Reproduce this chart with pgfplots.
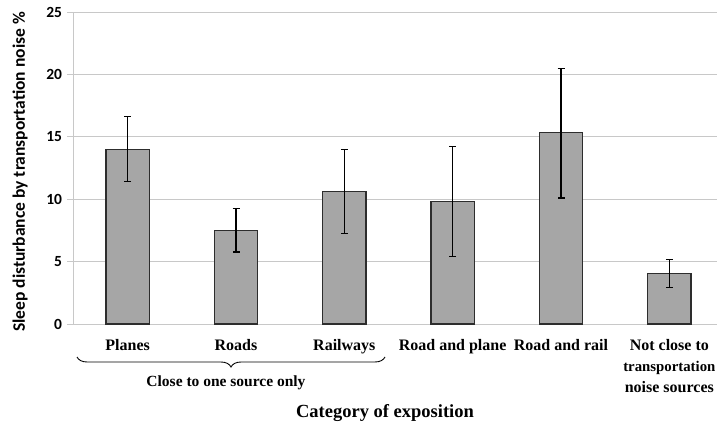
\documentclass[border=0pt]{standalone}
\usepackage{fontspec}
\setmainfont{Liberation Serif}
\newfontfamily\carlito{Carlito}
\usepackage{pgfplots}
\usepackage{pgfplotstable}
\pgfplotsset{compat=1.18}
\usetikzlibrary{decorations.pathreplacing}
\definecolor{barfill}{RGB}{166,166,166}
\definecolor{barline}{RGB}{45,45,45}
\definecolor{gridc}{RGB}{200,200,200}

% category, mean, error up, error down
\pgfplotstableread{
x y ep em
0 14.0 2.60 2.60
1 7.5 1.77 1.73
2 10.6 3.40 3.36
3 9.8 4.40 4.40
4 15.33 5.17 5.23
5 4.06 1.14 1.16
}\sleepdata

\newcommand\narrow{\fontsize{14.8}{21}\selectfont}

\begin{document}
\begin{tikzpicture}
\begin{axis}[
    at={(73.5pt,102pt)}, anchor=south west,
    scale only axis,
    width=650pt, height=312pt,
    xmin=-0.5, xmax=5.5,
    ymin=0, ymax=25,
    axis x line*=bottom,
    axis y line*=left,
    axis line style={gridc, line width=1pt},
    ytick={0,5,...,25},
    ymajorgrids,
    grid style={gridc, line width=1pt},
    tick align=outside,
    major tick length=6pt,
    tick style={gridc, line width=1pt},
    /pgf/number format/assume math mode=true,
    yticklabel style={font=\carlito\bfseries\fontsize{15.5}{17}\selectfont, xshift=-2pt},
    xtick={0,...,5},
    xticklabels={Planes, Roads, Railways, Road and plane, Road and rail,
        {Not close to\\\narrow transportation\\noise sources}},
    x tick style={draw=none},
    extra x ticks={-0.5,0.5,1.5,2.5,3.5,4.5},
    extra x tick labels={},
    extra x tick style={tick style={gridc, line width=1pt}, major tick length=6pt},
    xticklabel style={font=\bfseries\fontsize{16}{21}\selectfont, align=center, yshift=-6pt},
    clip=false,
]
\addplot[
    ybar, bar width=0.4, fill=barfill, draw=barline, line width=1.2pt,
    error bars/.cd, y dir=both, y explicit,
    error bar style={black, line width=1.1pt},
    error mark options={rotate=90, mark size=3.5pt, line width=1.1pt, black},
] table[x=x, y=y, y error plus=ep, y error minus=em] {\sleepdata};
\end{axis}

% axis titles and group brace
\node[rotate=90, font=\carlito\bfseries\fontsize{17.5}{19}\selectfont] at (20pt,254pt)
    {Sleep disturbance by transportation noise \%};
\draw[decorate, decoration={brace, mirror, amplitude=10pt}, line width=0.9pt]
    (77pt,69pt) -- (385pt,69pt);
\node[font=\bfseries\fontsize{15.5}{17}\selectfont] at (226pt,43pt) {Close to one source only};
\node[font=\bfseries\fontsize{18.5}{20}\selectfont] at (385pt,13pt) {Category of exposition};

\pgfresetboundingbox
\useasboundingbox (0,0) rectangle (717pt,426pt);
\end{tikzpicture}
\end{document}
